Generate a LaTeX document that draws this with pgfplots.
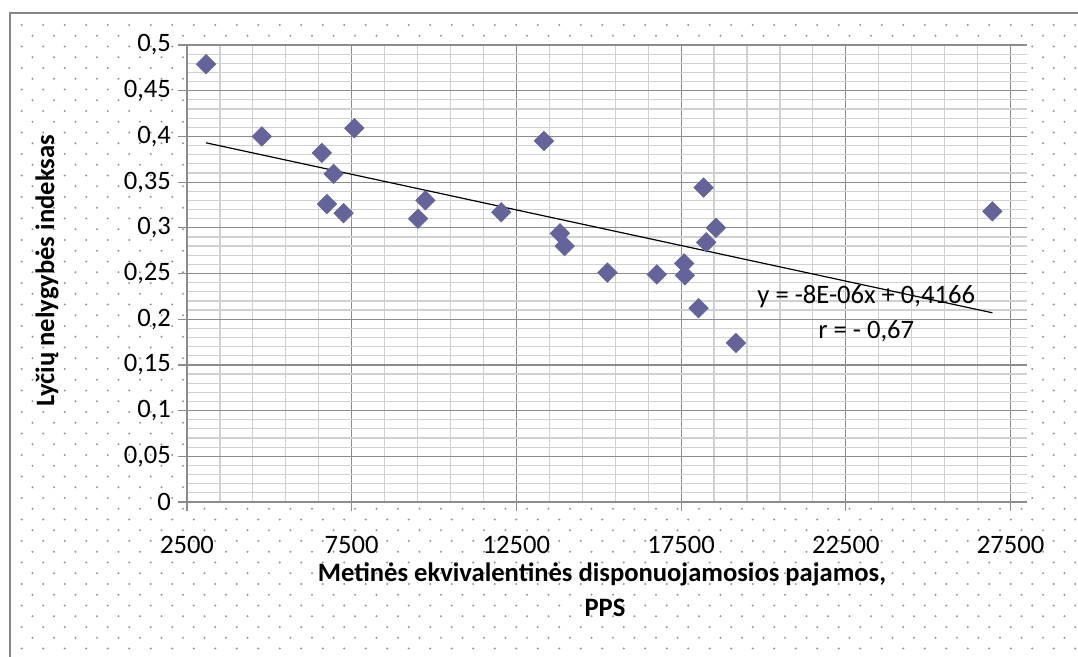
\documentclass[border=0pt]{standalone}
\usepackage{pgfplots}
\pgfplotsset{compat=1.18}
\usepackage{fontspec}
\setmainfont{Carlito}
\definecolor{markfill}{RGB}{100,100,154}
\definecolor{majgrid}{RGB}{140,140,140}
\definecolor{mingrid}{RGB}{208,208,208}
\definecolor{dotgray}{RGB}{150,150,150}
\definecolor{framegray}{RGB}{134,134,134}
\newcommand\chartfont{\fontsize{13.3}{15}\selectfont}
\begin{document}
\begin{tikzpicture}
\useasboundingbox (0,0) rectangle (539pt,-328.5pt);
\fill[white] (0,0) rectangle (539pt,-328.5pt);
% dotted chart area background
\foreach \r in {0,...,58}{
  \pgfmathsetmacro\yy{-12.5-5.375*\r}
  \pgfmathsetmacro\off{mod(\r,2)*5.375}
  \foreach \c in {0,...,49}{
    \pgfmathsetmacro\xx{10.85+\off+10.75*\c}
    \fill[dotgray] (\xx pt,\yy pt) circle (0.55pt);
  }
}
\draw[framegray, line width=0.6pt] (5pt,-330pt) -- (5pt,-6.5pt) -- (540pt,-6.5pt);

\begin{axis}[
  at={(93.5pt,-251pt)}, anchor=south west,
  scale only axis, width=420pt, height=228.5pt,
  xmin=2500, xmax=28000, ymin=0, ymax=0.5,
  xtick={2500,7500,12500,17500,22500,27500},
  ytick={0,0.05,0.1,0.15,0.2,0.25,0.3,0.35,0.4,0.45,0.5},
  minor x tick num=4, minor y tick num=4,
  grid=both,
  major grid style={majgrid, line width=0.6pt},
  minor grid style={mingrid, line width=0.6pt},
  axis lines*=left,
  axis line style={majgrid, line width=0.6pt},
  tick align=outside, major tick length=4.5pt, minor tick length=0pt,
  tick style={majgrid, line width=0.6pt},
  axis background/.style={fill=white},
  scaled ticks=false,
  ticklabel style={font=\chartfont},
  /pgf/number format/assume math mode=true,
  /pgf/number format/use comma,
  /pgf/number format/set thousands separator={},
  yticklabel style={/pgf/number format/fixed},
  xticklabel style={yshift=-9pt},
  clip=false,
]
\addplot[only marks, mark=square*, mark size=3.4pt,
  mark options={rotate=45, fill=markfill, draw=markfill}] coordinates {
  (3078,0.479) (4771,0.400) (6596,0.382) (6950,0.359) (6748,0.326)
  (7254,0.316) (7578,0.409) (9515,0.310) (9738,0.330) (12040,0.317)
  (13335,0.395) (13822,0.294) (13965,0.280) (15263,0.251) (16762,0.249)
  (17593,0.261) (17614,0.248) (18030,0.212) (18182,0.344) (18263,0.284)
  (18556,0.300) (19165,0.174) (26950,0.318)
};
\addplot[black, line width=0.6pt] coordinates {(3078,0.393) (26950,0.207)};
\node[font=\chartfont] at (axis cs:23120,0.2243) {y = -8E-06x + 0,4166};
\node[font=\chartfont] at (axis cs:23120,0.187) {r = - 0,67};
\end{axis}

\node[rotate=90, font=\bfseries\chartfont] at (23.5pt,-135.5pt) {Lyčių nelygybės indeksas};
\node[anchor=base, font=\bfseries\chartfont] at (301pt,-291pt) {Metinės ekvivalentinės disponuojamosios pajamos,};
\node[anchor=base, font=\bfseries\chartfont] at (302.5pt,-308.5pt) {PPS};
\end{tikzpicture}
\end{document}
